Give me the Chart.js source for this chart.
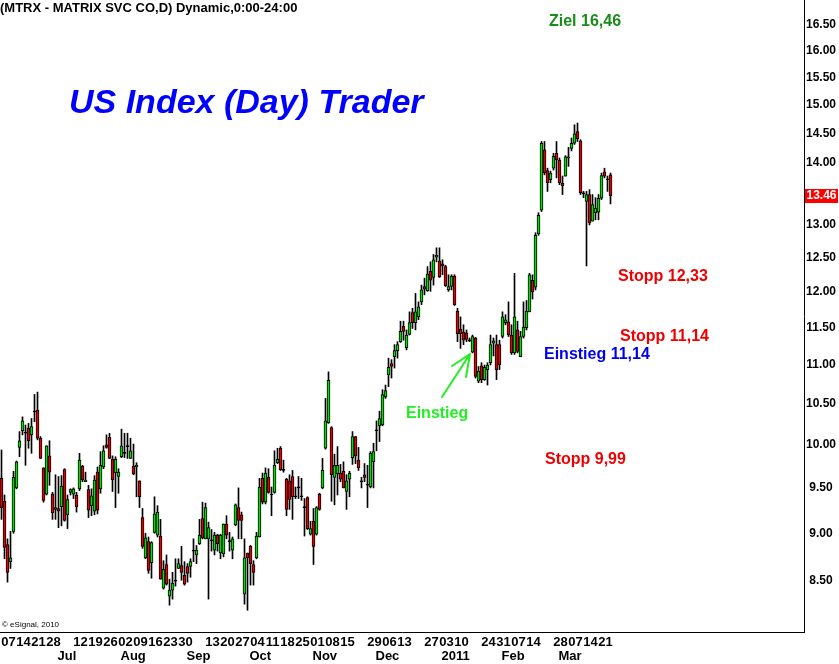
<!DOCTYPE html>
<html><head><meta charset="utf-8">
<script src="https://cdn.jsdelivr.net/npm/chart.js@4/dist/chart.umd.min.js"></script>
<style>html,body{margin:0;padding:0;background:#fff;}#wrap{width:839px;height:664px;}</style>
</head><body><div id="wrap"><canvas id="c" width="839" height="664"></canvas></div>
<script>
// ---- data (daily OHLC, MTRX, 2010-06-03 .. 2011-03-23) ----
const openP = [9.61,9.35,8.88,8.70,9.02,9.50,9.97,10.17,10.14,10.20,10.12,10.40,10.42,10.08,9.73,9.43,9.87,9.43,9.26,9.27,
9.29,9.71,9.20,9.45,9.43,9.42,9.49,9.75,9.57,9.48,9.30,9.24,9.68,9.49,9.74,10.00,10.09,9.83,9.67,9.63,
9.86,9.90,9.98,9.84,9.75,9.74,9.58,9.17,8.74,8.91,8.69,9.01,8.98,8.97,8.43,8.67,8.35,8.41,8.50,8.63,
8.66,8.56,8.65,8.65,8.81,8.77,8.89,9.16,8.94,8.94,8.92,8.82,8.98,8.79,8.78,9.10,8.91,8.82,9.09,9.28,
9.20,8.37,8.79,8.86,8.67,8.74,8.96,9.61,9.34,9.62,9.42,9.45,9.79,9.96,9.70,9.60,9.58,9.63,9.40,9.50,
9.40,9.28,9.39,8.99,9.13,8.99,9.43,9.50,9.96,10.27,10.21,9.62,9.66,9.67,9.69,9.46,9.60,9.85,10.10,9.82,
9.57,9.65,9.53,9.51,9.80,10.17,10.23,10.24,10.59,10.87,11.02,11.11,11.19,11.31,11.52,11.23,11.41,11.71,11.57,11.65,
11.86,12.08,12.02,12.30,12.21,12.51,12.45,12.41,12.37,12.03,12.08,12.23,11.73,11.48,11.44,11.43,11.32,11.17,11.36,10.79,
10.99,10.81,10.94,11.03,11.29,11.27,11.27,11.38,11.57,11.58,11.40,11.16,11.47,11.11,11.38,11.50,11.72,12.17,12.07,12.86,
13.23,14.22,13.87,13.72,13.91,14.16,14.04,13.66,13.78,14.10,14.24,14.33,14.53,14.37,13.49,13.37,13.48,13.06,13.19,13.20,
13.42,13.85,13.72,13.80];
const highP = [9.94,9.42,8.94,9.02,9.69,9.81,10.16,10.34,10.24,10.26,10.32,10.62,10.65,10.10,9.73,9.99,10.05,9.45,9.65,9.63,
9.64,9.72,9.42,9.49,9.50,9.45,9.90,9.76,9.68,9.53,9.49,9.64,9.74,9.92,9.99,10.12,10.14,9.87,9.86,9.72,
10.19,10.14,10.14,10.08,10.01,9.79,9.58,9.27,9.00,8.96,8.91,9.40,9.30,9.15,8.71,8.77,8.52,8.59,8.73,8.73,
8.86,8.70,8.68,8.73,8.94,8.87,9.15,9.34,9.33,9.12,9.04,9.01,8.99,8.99,9.10,9.19,9.01,8.96,9.32,9.50,
9.23,8.94,8.79,8.87,8.71,9.01,9.61,9.67,9.73,9.72,9.51,9.93,9.96,9.98,9.82,9.61,9.65,9.70,9.51,9.63,
9.61,9.38,9.40,9.13,9.27,9.29,9.44,9.84,10.57,10.91,10.22,9.89,9.98,9.77,9.80,9.65,9.69,10.16,10.10,9.97,
9.62,9.78,9.76,9.92,10.02,10.29,10.41,10.68,10.74,11.09,11.07,11.27,11.31,11.59,11.59,11.47,11.72,11.77,11.98,11.86,
12.10,12.20,12.37,12.44,12.55,12.65,12.65,12.47,12.39,12.25,12.25,12.25,11.77,11.65,11.54,11.47,11.36,11.40,11.37,10.98,
11.03,11.00,11.03,11.40,11.36,11.40,11.33,11.72,11.68,11.86,11.54,12.27,11.59,11.45,11.86,11.88,12.27,12.25,12.88,13.19,
14.36,14.36,13.91,13.86,14.16,14.36,14.08,13.78,14.12,14.26,14.42,14.65,14.68,14.39,13.53,13.53,13.56,13.48,13.43,13.48,
13.83,13.91,13.78,13.83];
const lowP = [9.15,8.73,8.49,8.63,9.00,9.49,9.86,10.12,9.76,9.96,9.90,10.28,10.06,9.84,9.34,9.42,9.53,9.15,9.15,9.06,
9.08,9.13,9.05,9.42,9.38,9.23,9.47,9.57,9.57,9.17,9.19,9.20,9.21,9.44,9.72,9.96,9.84,9.46,9.28,9.44,
9.85,9.85,9.84,9.84,9.65,9.40,9.28,8.84,8.73,8.58,8.53,9.00,8.96,8.52,8.42,8.46,8.26,8.32,8.45,8.63,
8.51,8.46,8.49,8.54,8.70,8.68,8.88,8.94,8.94,8.32,8.81,8.77,8.81,8.73,8.75,8.94,8.81,8.73,9.08,8.94,
8.94,8.27,8.21,8.46,8.46,8.73,8.96,9.32,9.32,9.44,9.19,9.44,9.78,9.70,9.68,9.19,9.26,9.15,9.38,9.38,
9.36,8.97,9.04,8.98,8.67,8.98,9.25,9.49,9.95,10.26,9.35,9.31,9.42,9.57,9.50,9.26,9.40,9.77,9.78,9.70,
9.50,9.57,9.28,9.50,9.50,9.93,10.04,10.23,10.57,10.72,10.83,10.96,11.09,11.30,11.33,11.20,11.40,11.49,11.47,11.61,
11.82,11.96,12.01,12.01,12.10,12.44,12.21,12.25,12.08,12.01,12.03,11.81,11.31,11.22,11.27,11.31,11.31,11.16,10.83,10.77,
10.77,10.80,10.74,11.00,11.12,10.81,10.94,11.36,11.54,11.38,11.14,11.14,11.16,11.11,11.36,11.47,11.72,11.90,12.03,12.84,
13.21,13.80,13.53,13.67,13.88,13.75,13.64,13.48,13.78,13.94,14.20,14.31,14.36,13.48,13.43,12.38,13.00,13.06,13.08,13.08,
13.40,13.75,13.53,13.33];
const closeP = [9.28,8.85,8.59,8.74,9.62,9.80,10.05,10.29,10.14,10.05,10.22,10.40,10.08,9.84,9.36,9.99,9.68,9.22,9.28,9.24,
9.52,9.14,9.37,9.48,9.49,9.29,9.82,9.59,9.59,9.25,9.41,9.59,9.25,9.76,9.93,9.97,9.84,9.59,9.83,9.68,
9.99,9.90,9.98,9.93,9.66,9.76,9.40,8.86,8.95,8.61,8.90,9.21,9.23,8.52,8.62,8.47,8.41,8.48,8.50,8.68,
8.59,8.47,8.58,8.70,8.81,8.82,8.98,8.95,9.28,9.06,8.92,8.98,8.89,8.98,9.10,8.98,8.91,8.94,9.31,9.14,
9.14,8.74,8.74,8.68,8.59,8.97,9.51,9.34,9.67,9.45,9.42,9.76,9.83,9.71,9.70,9.26,9.37,9.40,9.40,9.50,
9.40,9.28,9.05,9.05,8.86,9.28,9.26,9.70,10.29,10.80,9.65,9.76,9.76,9.60,9.50,9.58,9.67,10.10,9.87,9.73,
9.57,9.62,9.53,9.90,9.92,10.17,10.32,10.62,10.67,10.97,10.98,11.19,11.27,11.45,11.45,11.40,11.57,11.57,11.72,11.79,
12.03,12.04,12.26,12.17,12.47,12.54,12.22,12.38,12.09,12.08,12.23,11.82,11.42,11.42,11.33,11.34,11.32,11.38,10.85,10.92,
10.81,10.97,11.00,11.27,11.32,10.94,11.00,11.65,11.61,11.40,11.16,11.65,11.18,11.38,11.51,11.73,12.25,12.00,12.84,13.15,
14.33,13.83,13.67,13.83,14.11,14.05,13.67,13.62,14.10,14.08,14.33,14.49,14.41,13.51,13.49,13.48,13.03,13.32,13.26,13.42,
13.79,13.78,13.72,13.46];

// ---- calendar / tick labels ----
const firstDate = '2010-06-03';
const holidays = ['2010-07-05','2010-09-06','2010-11-25','2010-12-24','2011-01-17','2011-02-21'];
const futureSlots = 64;
const weekLabelDates = ['2010-06-07','2010-06-14','2010-06-21','2010-06-28','2010-07-12','2010-07-19','2010-07-26',
 '2010-08-02','2010-08-09','2010-08-16','2010-08-23','2010-08-30','2010-09-13','2010-09-20','2010-09-27',
 '2010-10-04','2010-10-11','2010-10-18','2010-10-25','2010-11-01','2010-11-08','2010-11-15','2010-11-29',
 '2010-12-06','2010-12-13','2010-12-27','2011-01-03','2011-01-10','2011-01-24','2011-01-31','2011-02-07',
 '2011-02-14','2011-02-28','2011-03-07','2011-03-14','2011-03-21'];
const monthLabelDates = ['2010-07-01','2010-08-02','2010-09-01','2010-10-01','2010-11-01','2010-12-01','2011-01-03','2011-02-01','2011-03-01'];
const monthLabelTexts = ['Jul','Aug','Sep','Oct','Nov','Dec','2011','Feb','Mar'];
const yTickValues = [8.5,9,9.5,10,10.5,11,11.5,12,12.5,13,14,14.5,15,15.5,16,16.5];

const FONT = '"Liberation Sans", Arial, sans-serif';
const GREEN = '#00e000', RED = '#e00000';

function tradingDays(start, count, hol) {
  const out = []; const d = new Date(start + 'T00:00:00Z');
  while (out.length < count) {
    const s = d.toISOString().slice(0, 10); const wd = d.getUTCDay();
    if (wd !== 0 && wd !== 6 && !hol.includes(s)) out.push(s);
    d.setUTCDate(d.getUTCDate() + 1);
  }
  return out;
}
const n = closeP.length;
const labels = tradingDays(firstDate, n + futureSlots, holidays);
const weekIdx = weekLabelDates.map(s => labels.indexOf(s));
const weekText = {}; weekLabelDates.forEach((s, k) => weekText[weekIdx[k]] = s.slice(8, 10));
const monthIdx = monthLabelDates.map(s => labels.indexOf(s));
const monthText = {}; monthIdx.forEach((i, k) => monthText[i] = monthLabelTexts[k]);

const wicks = labels.map((_, i) => i < n ? [lowP[i], highP[i]] : null);
const bodies = labels.map((_, i) => i < n ? [openP[i], closeP[i]] : null);
const bodyColors = labels.map((_, i) => i >= n ? 'rgba(0,0,0,0)' :
  closeP[i] > openP[i] ? GREEN : (closeP[i] < openP[i] ? RED : '#000'));

const annotations = [
  {t:'(MTRX - MATRIX SVC CO,D) Dynamic,0:00-24:00', x:0, y:8, c:'#000', f:'bold 13px ' + FONT},
  {t:'US Index (Day) Trader', x:69, y:104, c:'#0000ff', f:'italic bold 34px ' + FONT},
  {t:'Ziel 16,46', x:549, y:22, c:'#1a8c1a', f:'bold 16px ' + FONT},
  {t:'Stopp 12,33', x:618, y:277, c:'#ee0000', f:'bold 16px ' + FONT},
  {t:'Stopp 11,14', x:620, y:337, c:'#ee0000', f:'bold 16px ' + FONT},
  {t:'Einstieg 11,14', x:544, y:355, c:'#0000ee', f:'bold 16px ' + FONT},
  {t:'Stopp 9,99', x:545, y:460, c:'#ee0000', f:'bold 16px ' + FONT},
  {t:'Einstieg', x:406, y:414, c:'#22ee22', f:'bold 16px ' + FONT},
  {t:'\u00A9 eSignal, 2010', x:2, y:625, c:'#000', f:'8px ' + FONT}
];

const overlay = {
  id: 'overlay',
  afterDraw(chart) {
    const ctx = chart.ctx; ctx.save();
    ctx.textBaseline = 'middle'; ctx.textAlign = 'left';
    annotations.forEach(a => { ctx.font = a.f; ctx.fillStyle = a.c; ctx.fillText(a.t, a.x, a.y); });
    // green arrow
    ctx.strokeStyle = '#22ee22'; ctx.lineWidth = 2; ctx.lineCap = 'round';
    ctx.beginPath();
    ctx.moveTo(442, 397); ctx.lineTo(470, 354);
    ctx.moveTo(470, 354); ctx.lineTo(452, 366);
    ctx.moveTo(470, 354); ctx.lineTo(466, 377);
    ctx.stroke();
    // last price box
    const y = chart.scales.y.getPixelForValue(closeP[n - 1]);
    ctx.fillStyle = '#ff0000'; ctx.fillRect(805, Math.round(y) - 7, 33, 14);
    ctx.fillStyle = '#fff'; ctx.font = 'bold 12px ' + FONT; ctx.textAlign = 'center';
    ctx.fillText(closeP[n - 1].toFixed(2), 821.5, Math.round(y));
    ctx.restore();
  }
};

const xCommon = {
  type: 'category', position: 'bottom', offset: true,
  grid: {display: false, drawTicks: false}
};

new Chart(document.getElementById('c'), {
  type: 'bar',
  data: {
    labels: labels,
    datasets: [
      {data: bodies, backgroundColor: bodyColors, borderColor: '#000', borderWidth: 1, borderSkipped: false,
       barThickness: 3, minBarLength: 1, grouped: false, order: 0},
      {data: wicks, backgroundColor: '#000', borderWidth: 0, barThickness: 1, grouped: false, order: 1}
    ]
  },
  options: {
    responsive: false, animation: false, events: [],
    layout: {padding: 0},
    plugins: {legend: {display: false}, tooltip: {enabled: false}},
    scales: {
      x: Object.assign({}, xCommon, {
        border: {display: true, color: '#000', width: 1},
        ticks: {autoSkip: false, maxRotation: 0, minRotation: 0, padding: 3, labelOffset: 1, color: '#000',
                font: {family: FONT, size: 13, weight: 'bold'}, callback: v => weekText[v] || ''},
        afterBuildTicks: s => { s.ticks = weekIdx.map(i => ({value: i})); },
        afterFit: s => { s.height = 17; s.paddingLeft = 0; s.paddingRight = 0; }
      }),
      x2: Object.assign({}, xCommon, {
        border: {display: false},
        ticks: {autoSkip: false, maxRotation: 0, minRotation: 0, padding: 0, align: 'start', labelOffset: -4, color: '#000',
                font: {family: FONT, size: 13, weight: 'bold'}, callback: v => monthText[v] || ''},
        afterBuildTicks: s => { s.ticks = monthIdx.map(i => ({value: i})); },
        afterFit: s => { s.height = 15; s.paddingLeft = 0; s.paddingRight = 0; }
      }),
      y: {
        type: 'logarithmic', position: 'right', min: 8, max: 17,
        grid: {display: false, drawTicks: false},
        border: {display: true, color: '#000', width: 1},
        ticks: {padding: 2, crossAlign: 'center', color: '#000', autoSkip: false,
                font: {family: FONT, size: 12, weight: 'bold'}, callback: v => Number(v).toFixed(2)},
        afterBuildTicks: s => { s.ticks = yTickValues.map(v => ({value: v})); },
        afterFit: s => { s.width = 35; s.paddingTop = 0; s.paddingBottom = 0; }
      }
    }
  },
  plugins: [overlay]
});
</script></body></html>
